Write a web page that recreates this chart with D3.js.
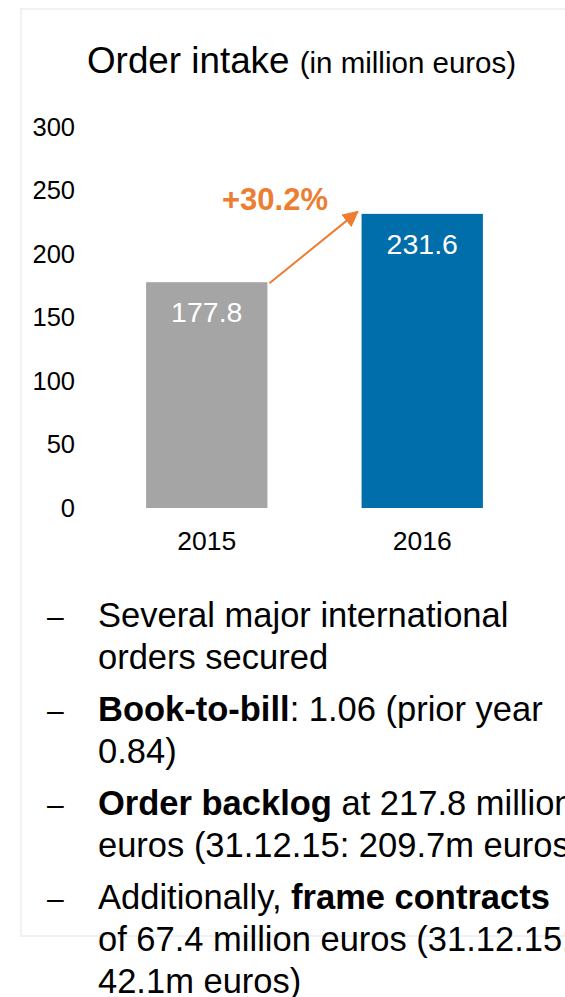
<!DOCTYPE html>
<html>
<head>
  <meta charset="utf-8">
  <title>Order intake</title>
  <style>
    body { margin: 0; background: #fff; }
    svg { display: block; font-family: "Liberation Sans", Arial, sans-serif; }
    .axis path, .axis line { display: none; }
  </style>
</head>
<body>
  <svg width="565" height="997"></svg>
  <script src="https://cdn.jsdelivr.net/npm/d3@7"></script>
  <script>
    var years = ["2015", "2016"];
    var values = [177.8, 231.6];
    var barColors = ["#a5a5a5", "#006eaa"];
    var yTicks = [0, 50, 100, 150, 200, 250, 300];
    var growthLabel = "+30.2%";
    var bullets = [
      [[{ t: "Several major international", b: false }], [{ t: "orders secured", b: false }]],
      [[{ t: "Book-to-bill", b: true }, { t: ": 1.06 (prior year", b: false }], [{ t: "0.84)", b: false }]],
      [[{ t: "Order backlog", b: true }, { t: " at 217.8 million", b: false }], [{ t: "euros (31.12.15: 209.7m euros)", b: false }]],
      [[{ t: "Additionally, ", b: false }, { t: "frame contracts", b: true }],
       [{ t: "of 67.4 million euros (31.12.15:", b: false }], [{ t: "42.1m euros)", b: false }]]
    ];

    var svg = d3.select("svg");
    var font = "Liberation Sans, Arial, sans-serif";

    // faint frame
    svg.append("rect")
      .attr("x", 21).attr("y", 9)
      .attr("width", 600).attr("height", 927)
      .attr("fill", "none").attr("stroke", "#eef2f7").attr("stroke-width", 2);

    // title
    var title = svg.append("text").attr("x", 87).attr("y", 73).attr("fill", "#000");
    title.append("tspan").attr("font-size", 36.8).text("Order intake ");
    title.append("tspan").attr("font-size", 29.5).text("(in million euros)");

    var x = d3.scaleBand().domain(years).range([103, 526]).paddingInner(0.437).paddingOuter(0.2);
    var y = d3.scaleLinear().domain([0, 300]).range([508, 127]);

    svg.append("g")
      .attr("class", "axis")
      .attr("transform", "translate(75,0)")
      .call(d3.axisLeft(y).tickValues(yTicks).tickSize(0).tickPadding(0))
      .selectAll("text")
      .attr("font-size", 25.5).attr("fill", "#000")
      .attr("font-family", font);

    svg.append("g")
      .attr("class", "axis")
      .attr("transform", "translate(0,508)")
      .call(d3.axisBottom(x).tickSize(0).tickPadding(23))
      .selectAll("text")
      .attr("font-size", 26.5).attr("fill", "#000")
      .attr("font-family", font);

    svg.selectAll(".bar")
      .data(values)
      .enter().append("rect")
      .attr("class", "bar")
      .attr("x", function(d, i) { return x(years[i]); })
      .attr("y", function(d) { return y(d); })
      .attr("width", x.bandwidth())
      .attr("height", function(d) { return y(0) - y(d); })
      .attr("fill", function(d, i) { return barColors[i]; });

    svg.selectAll(".val")
      .data(values)
      .enter().append("text")
      .attr("x", function(d, i) { return x(years[i]) + x.bandwidth() / 2; })
      .attr("y", function(d) { return y(d) + 40; })
      .attr("text-anchor", "middle")
      .attr("font-size", 28.5)
      .attr("fill", "#fff")
      .text(function(d) { return d.toFixed(1); });

    // growth arrow
    svg.append("defs").append("marker")
      .attr("id", "head")
      .attr("viewBox", "0 0 10 10")
      .attr("refX", 9).attr("refY", 5)
      .attr("markerUnits", "userSpaceOnUse")
      .attr("orient", "auto")
      .attr("markerWidth", 16).attr("markerHeight", 16)
      .append("path").attr("d", "M0,0L10,5L0,10z").attr("fill", "#ed7d31");

    var x0 = x(years[0]) + x.bandwidth() + 2, y0 = y(values[0]) + 1;
    var x1 = x(years[1]) - 4, y1 = y(values[1]) - 2;
    svg.append("line")
      .attr("x1", x0).attr("y1", y0).attr("x2", x1).attr("y2", y1)
      .attr("stroke", "#ed7d31").attr("stroke-width", 2)
      .attr("marker-end", "url(#head)");

    svg.append("text")
      .attr("x", 275).attr("y", 210)
      .attr("text-anchor", "middle")
      .attr("font-size", 31).attr("font-weight", "bold")
      .attr("fill", "#ed7d31")
      .text(growthLabel);

    // bullet list
    var lineY = 627;
    bullets.forEach(function(item) {
      svg.append("text")
        .attr("x", 47).attr("y", lineY)
        .attr("font-size", 30).attr("fill", "#000")
        .text("\u2013");
      item.forEach(function(line) {
        var t = svg.append("text").attr("x", 98).attr("y", lineY)
          .attr("font-size", 34.5).attr("fill", "#000");
        line.forEach(function(seg) {
          t.append("tspan")
            .attr("font-weight", seg.b ? "bold" : "normal")
            .attr("xml:space", "preserve")
            .text(seg.t);
        });
        lineY += 41.8;
      });
      lineY += 10.5;
    });
  </script>
</body>
</html>
